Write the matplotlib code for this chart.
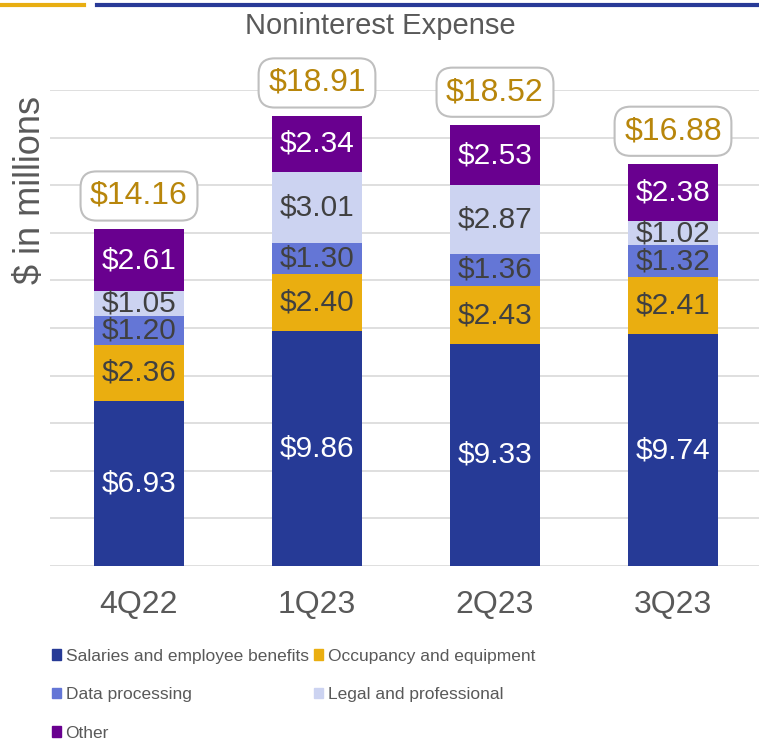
import matplotlib.pyplot as plt
import matplotlib.patches as mpatches
from matplotlib.lines import Line2D
import numpy as np

plt.rcParams['font.family'] = ['Liberation Sans', 'DejaVu Sans']

# 数据
quarters = ['4Q22', '1Q23', '2Q23', '3Q23']
salaries = [6.93, 9.86, 9.33, 9.74]
occupancy = [2.36, 2.40, 2.43, 2.41]
data_proc = [1.20, 1.30, 1.36, 1.32]
legal = [1.05, 3.01, 2.87, 1.02]
other = [2.61, 2.34, 2.53, 2.38]
totals = [14.16, 18.91, 18.52, 16.88]

series = [
    ('Salaries and employee benefits', salaries, '#263A96', 'white'),
    ('Occupancy and equipment', occupancy, '#EAAE10', '#404040'),
    ('Data processing', data_proc, '#6476D6', '#404040'),
    ('Legal and professional', legal, '#CCD3F1', '#404040'),
    ('Other', other, '#69008F', 'white'),
]

W, H = 759, 745
fig = plt.figure(figsize=(W / 100, H / 100), dpi=100)
ax = fig.add_axes([50 / W, (H - 566) / H, 712 / W, 476 / H])

x = np.arange(len(quarters))
bottom = np.zeros(len(quarters))
handles = []
for name, vals, color, tcolor in series:
    ax.bar(x, vals, width=0.505, bottom=bottom, color=color, zorder=2)
    for xi, b, v in zip(x, bottom, vals):
        ax.text(xi, b + v / 2, '$%.2f' % v, ha='center', va='center',
                fontsize=21.5, color=tcolor, zorder=3)
    bottom += np.array(vals)
    handles.append(mpatches.Patch(color=color, label=name))

# 合计标签
for xi, t in zip(x, totals):
    ax.annotate('$%.2f' % t, (xi, t), xytext=(0, 33), textcoords='offset pixels',
                ha='center', va='center', fontsize=23, color='#B8860B', zorder=4,
                bbox=dict(boxstyle='round,pad=0.3,rounding_size=0.5', fc='white',
                          ec='#BFBFBF', lw=1.5))

ax.set_xlim(-0.5, 3.5)
ax.set_ylim(0, 20)
ax.set_yticks(np.arange(0, 21, 2))
ax.set_yticklabels([])
ax.tick_params(axis='y', length=0)
ax.tick_params(axis='x', length=0, pad=17, labelsize=23, labelcolor='#595959')
ax.set_xticks(x)
ax.set_xticklabels(quarters)
ax.grid(axis='y', color='#D9D9D9', linewidth=1.2, zorder=0)
for s in ax.spines.values():
    s.set_visible(False)

fig.text(380 / W, 1 - 26 / H, 'Noninterest Expense', ha='center', va='center',
         fontsize=21, color='#595959')
fig.text(31 / W, 1 - 190 / H, '$ in millions', ha='center', va='center',
         rotation=90, fontsize=26, color='#595959')

# 顶部装饰线
fig.add_artist(Line2D([0, 84 / W], [1 - 5 / H] * 2, color='#E8AE12', lw=3))
fig.add_artist(Line2D([97 / W, 1], [1 - 5 / H] * 2, color='#283A97', lw=3))

order = [0, 2, 4, 1, 3]
fig.legend([handles[i] for i in order], [handles[i].get_label() for i in order],
           ncol=2, loc='upper left', bbox_to_anchor=(36 / W, 1 - 633 / H),
           frameon=False, labelcolor='#595959', fontsize=12.5,
           handlelength=0.55, handleheight=0.55, handletextpad=0.25,
           columnspacing=0.3, labelspacing=1.35)

plt.savefig('out.png', dpi=100)
